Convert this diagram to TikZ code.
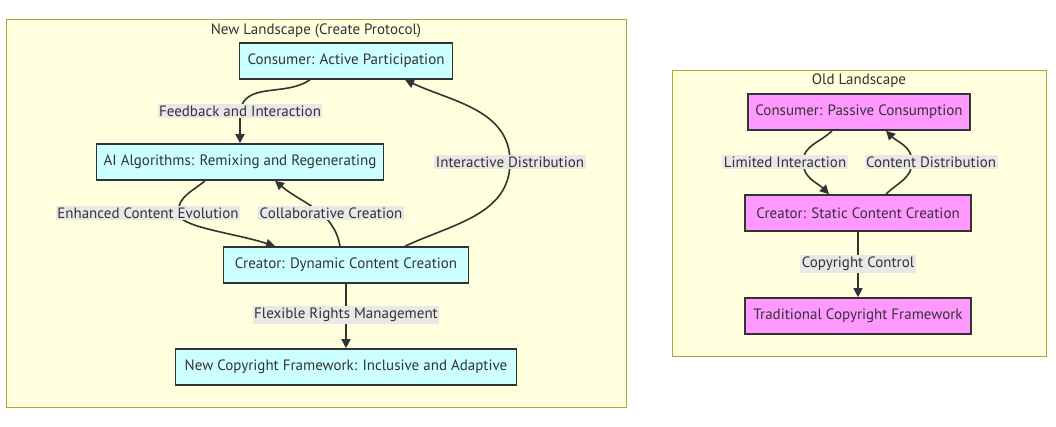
\documentclass[tikz,border=0pt]{standalone}
\usepackage{fontspec}
\setmainfont{PT Sans}
\usepackage{tikz}
\usetikzlibrary{arrows.meta,shapes,positioning}
\usepackage{xcolor}
\definecolor{lsfill}{HTML}{FFFFDE}
\definecolor{lsdraw}{HTML}{AAAA33}
\definecolor{newfill}{HTML}{CCFFFF}
\definecolor{oldfill}{HTML}{FF99FF}
\definecolor{ink}{HTML}{333333}
\definecolor{lblfill}{HTML}{E8E8E8}
\tikzstyle{landscape} = [draw=lsdraw, fill=lsfill, line width=1pt]
\tikzstyle{newbox} = [rectangle, minimum height=36pt, inner sep=0pt, text centered, draw=ink, fill=newfill, line width=1.6pt, text=ink]
\tikzstyle{oldbox} = [newbox, fill=oldfill]
\tikzstyle{edgelbl} = [rectangle, fill=lblfill, inner xsep=1.5pt, inner ysep=2pt, text=ink]
\tikzstyle{arrow} = [line width=1.6pt, draw=ink, -{Triangle[length=9pt,width=9pt]}]
\pgfdeclarelayer{lsback}
\pgfdeclarelayer{edges}
\pgfsetlayers{lsback,edges,main}

\begin{document}
\begin{tikzpicture}[x=1pt, y=1pt, font=\fontsize{15}{18}\selectfont]
\useasboundingbox (0,0) rectangle (1056,427);

% Landscapes
\begin{pgfonlayer}{lsback}
\fill[white] (0,0) rectangle (1056,427);
\draw[landscape] (6,19) rectangle (626,407);
\draw[landscape] (672,70) rectangle (1046,356);
\end{pgfonlayer}

% New landscape
\node[text=ink] (newtitle) at (316,396) {New Landscape (Create Protocol)};

\node[newbox, minimum width=213pt] (consA) at (346,366) {Consumer: Active Participation};
\node[newbox, minimum width=287pt] (algo) at (240,265) {AI Algorithms: Remixing and Regenerating};
\node[newbox, minimum width=245pt] (creD) at (346,162) {Creator: Dynamic Content Creation};
\node[newbox, minimum width=341pt] (newCopy) at (346,60) {New Copyright Framework: Inclusive and Adaptive};

\node[edgelbl] (lblFeed) at (240,316) {Feedback and Interaction};
\node[edgelbl] (lblInter) at (510,265) {Interactive Distribution};
\node[edgelbl] (lblEnh) at (148,214) {Enhanced Content Evolution};
\node[edgelbl] (lblCollab) at (331,214) {Collaborative Creation};
\node[edgelbl] (lblFlex) at (346,112) {Flexible Rights Management};
\coordinate (enhBend) at (178,214);

% Old landscape
\node[text=ink] (oldtitle) at (859,346) {Old Landscape};

\node[oldbox, minimum width=222pt] (consP) at (859,315) {Consumer: Passive Consumption};
\node[oldbox, minimum width=226pt] (creS) at (858,214) {Creator: Static Content Creation};
\node[oldbox, minimum width=226pt] (tradCopy) at (858,111) {Traditional Copyright Framework};

\node[edgelbl] (lblLim) at (785,265) {Limited Interaction};
\node[edgelbl] (lblDist) at (931,265) {Content Distribution};
\node[edgelbl] (lblCtrl) at (858,163) {Copyright Control};
\coordinate (limBend) at (803,265);
\coordinate (distBend) at (912,265);

\begin{pgfonlayer}{edges}
\draw[arrow] ([xshift=-36pt]consA.south) to[out=215,in=80] (lblFeed.center) -- (algo.north);
\draw[arrow] ([xshift=59pt]creD.north) to[out=25,in=-90] (lblInter.center) to[out=90,in=-25] ([xshift=59pt]consA.south);
\draw[arrow] ([xshift=-35pt]algo.south) to[out=-140,in=90] (enhBend) .. controls +(0,-14) and +(-40,13) .. ([xshift=-71pt]creD.north);
\draw[arrow] ([xshift=-6pt]creD.north) to[out=100,in=-40] ([xshift=35pt]algo.south);
\draw[arrow] (creD) -- (newCopy);

\draw[arrow] ([xshift=-27pt]consP.south) to[out=-135,in=90] (limBend) to[out=-90,in=135] ([xshift=-29pt]creS.north);
\draw[arrow] ([xshift=28pt]creS.north) to[out=45,in=-90] (distBend) to[out=90,in=-45] ([xshift=27pt]consP.south);
\draw[arrow] (creS) -- (tradCopy);
\end{pgfonlayer}
\end{tikzpicture}
\end{document}
